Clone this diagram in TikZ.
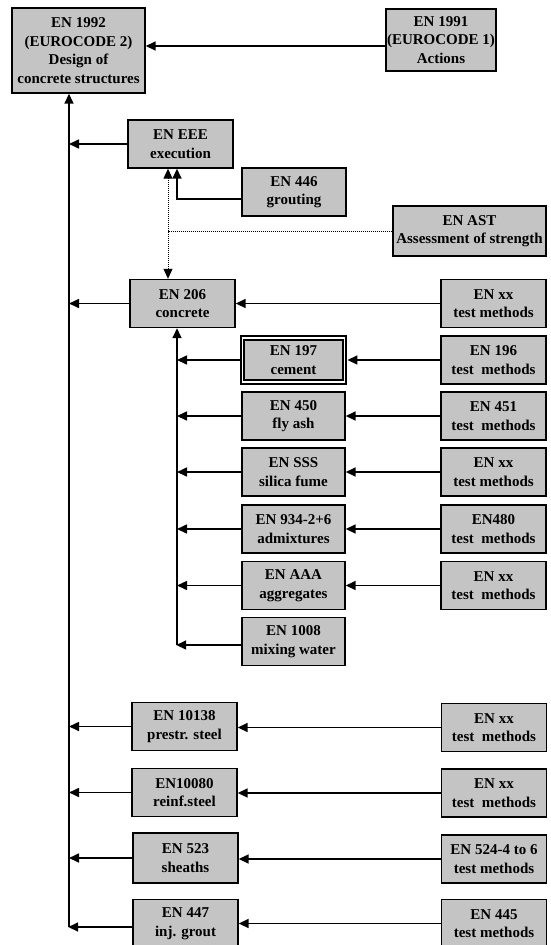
\documentclass[tikz,border=0pt]{standalone}
\usepackage{fontspec}
\setmainfont{Liberation Serif}
\usetikzlibrary{arrows.meta}
\definecolor{boxfill}{RGB}{196,196,196}
\tikzset{
  box/.style={draw=black, line width=1.4pt, fill=boxfill, align=center,
    inner xsep=1pt, inner ysep=2pt,
    font=\fontsize{15}{18.5}\selectfont\bfseries},
  lbox/.style={box, minimum width=105pt, minimum height=48pt},
  rbox/.style={box, minimum width=105pt, minimum height=48pt},
  arr/.style={line width=1.6pt, -{Triangle[length=10pt,width=9pt]}},
  dotarr/.style={line width=1pt, densely dotted, {Triangle[length=10pt,width=9pt]}-{Triangle[length=10pt,width=9pt]}},
  dotline/.style={line width=1pt, densely dotted},
  dbl/.style={double=white, double distance=1.6pt, line width=1.9pt}
}
\begin{document}
\begin{tikzpicture}[x=1pt, y=-1pt]
\useasboundingbox (0,0) rectangle (551,945);

% top row
\node[box, minimum width=133pt, minimum height=85pt] (en1992) at (78.5,50.5)
  {EN 1992\\(EUROCODE 2)\\Design of\\concrete structures};
\node[box, minimum width=104pt, minimum height=62pt] (en1991) at (441,40)
  {EN 1991\\(EUROCODE 1)\\Actions};

% execution group
\node[lbox] (eneee) at (180.5,144) {EN EEE\\execution};
\node[box, minimum width=104pt, minimum height=48pt] (en446) at (294,192) {EN 446\\grouting};
\node[box, minimum width=153pt, minimum height=50pt] (enast) at (469.5,231) {EN AST\\Assessment of strength};

% concrete group
\node[lbox] (en206) at (182.5,303.5) {EN 206\\concrete};
\node[rbox] (enxxa) at (493.5,303.5) {EN xx\\test methods};

\node[box, dbl, minimum width=102pt, minimum height=44pt] (en197) at (293.5,360) {EN 197\\cement};
\node[rbox] (en196) at (493.5,360) {EN 196\\test\ \ methods};

\node[lbox, minimum width=103pt] (en450) at (293.5,416) {EN 450\\fly ash};
\node[rbox] (en451) at (493.5,416) {EN 451\\test\ \ methods};

\node[lbox, minimum width=103pt] (ensss) at (293.5,472) {EN SSS\\silica fume};
\node[rbox] (enxxb) at (493.5,472) {EN xx\\test methods};

\node[lbox, minimum width=103pt] (en934) at (293.5,529) {EN 934-2+6\\admixtures};
\node[rbox] (en480) at (493.5,529) {EN480\\test\ \ methods};

\node[lbox, minimum width=103pt] (enaaa) at (293.5,585.5) {EN AAA\\aggregates};
\node[rbox] (enxxc) at (493.5,585.5) {EN xx\\test\ \ methods};

\node[lbox, minimum width=103pt] (en1008) at (293.5,641.5) {EN 1008\\mixing water};

% steel etc.
\node[lbox] (en10138) at (184.5,726.5) {EN 10138\\prestr. steel};
\node[rbox] (enxxd) at (494,727.5) {EN xx\\test\ \ methods};

\node[lbox] (en10080) at (184.5,792.5) {EN10080\\reinf.steel};
\node[rbox] (enxxe) at (494,793) {EN xx\\test\ \ methods};

\node[lbox, minimum height=50pt] (en523) at (185.5,858) {EN 523\\sheaths};
\node[rbox] (en524) at (494,859) {EN 524-4 to 6\\test methods};

\node[lbox] (en447) at (185.5,923.5) {EN 447\\inj. grout};
\node[rbox] (en445) at (494,923.5) {EN 445\\test methods};

% coordinates for the spines
\coordinate (mainbot) at (69,927);
\coordinate (innerbot) at (177,645);
\coordinate (dx) at (168,0);

% main spine
\draw[arr] (mainbot) -- (mainbot |- en1992.south);
\draw[arr] (en1991.west |- 0,46) -- (en1992.east |- 0,46);
\draw[arr] (eneee.west) -- (eneee.west -| mainbot);
\draw[arr] (en206.west) -- (en206.west -| mainbot);
\draw[arr] (en10138.west) -- (en10138.west -| mainbot);
\draw[arr] (en10080.west) -- (en10080.west -| mainbot);
\draw[arr] (en523.west) -- (en523.west -| mainbot);
\draw[arr] (en447.west |- mainbot) -- ([xshift=-0.8pt]mainbot);

% execution links
\draw[arr] ([yshift=-7pt]en446.west) -| (innerbot |- eneee.south);
\draw[dotarr] (dx |- eneee.south) -- (dx |- en206.north);
\draw[dotline] (enast.west) -- (enast.west -| dx);

% inner spine
\draw[arr] (innerbot) -- (innerbot |- en206.south);
\draw[arr] (en197.west) -- (en197.west -| innerbot);
\draw[arr] (en450.west) -- (en450.west -| innerbot);
\draw[arr] (ensss.west) -- (ensss.west -| innerbot);
\draw[arr] (en934.west) -- (en934.west -| innerbot);
\draw[arr] (enaaa.west) -- (enaaa.west -| innerbot);
\draw[arr] (en1008.west |- innerbot) -- ([xshift=-0.8pt]innerbot);

% test methods links
\draw[arr] (enxxa.west) -- (enxxa.west -| en206.east);
\draw[arr] (en196.west) -- ([xshift=2pt]en196.west -| en197.east);
\draw[arr] (en451.west) -- (en451.west -| en450.east);
\draw[arr] (enxxb.west) -- (enxxb.west -| ensss.east);
\draw[arr] (en480.west) -- (en480.west -| en934.east);
\draw[arr] (enxxc.west) -- (enxxc.west -| enaaa.east);
\draw[arr] (enxxd.west) -- (enxxd.west -| en10138.east);
\draw[arr] (enxxe.west) -- (enxxe.west -| en10080.east);
\draw[arr] (en524.west) -- (en524.west -| en523.east);
\draw[arr] (en445.west) -- (en445.west -| en447.east);
\end{tikzpicture}
\end{document}
